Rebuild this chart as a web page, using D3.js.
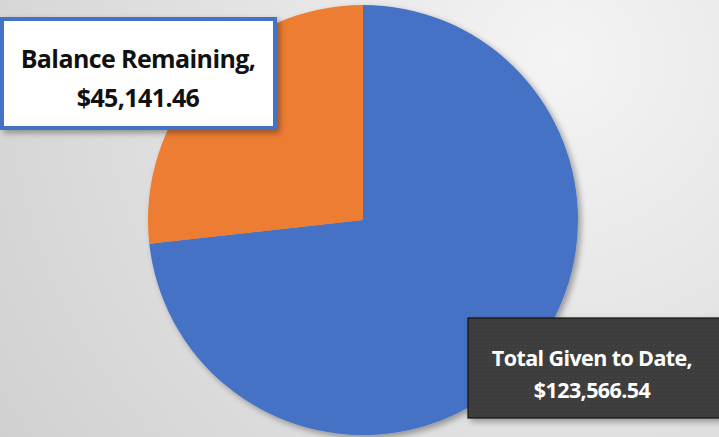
<!DOCTYPE html>
<html>
<head>
<meta charset="utf-8">
<script src="https://cdn.jsdelivr.net/npm/d3@7"></script>
<style>
  body { margin: 0; padding: 0; overflow: hidden; }
  svg { display: block; }
</style>
</head>
<body>
<div id="chart"></div>
<script>
// Data
var categories = ["Total Given to Date", "Balance Remaining"];
var values = [123566.54, 45141.46];
var valueLabels = ["$123,566.54", "$45,141.46"];
var colors = ["#4472c4", "#ed7d31"];

var width = 719, height = 437;
var cx = 363, cy = 220, radius = 215;

var svg = d3.select("#chart")
    .append("svg")
    .attr("width", width)
    .attr("height", height);

var defs = svg.append("defs");

// background gradient
var bg = defs.append("radialGradient")
    .attr("id", "bgGrad")
    .attr("gradientUnits", "userSpaceOnUse")
    .attr("cx", 560).attr("cy", 60).attr("r", 700);
bg.append("stop").attr("offset", "0%").attr("stop-color", "#f4f4f4");
bg.append("stop").attr("offset", "100%").attr("stop-color", "#cfcfcf");

// shadow
var sh = defs.append("filter").attr("id", "shadow")
    .attr("x", "-10%").attr("y", "-10%").attr("width", "130%").attr("height", "130%");
sh.append("feGaussianBlur").attr("in", "SourceAlpha").attr("stdDeviation", 3);
sh.append("feOffset").attr("dx", 3).attr("dy", 3).attr("result", "ob");
sh.append("feComponentTransfer").append("feFuncA").attr("type", "linear").attr("slope", 0.35);
var m = sh.append("feMerge");
m.append("feMergeNode");
m.append("feMergeNode").attr("in", "SourceGraphic");

// dotted pattern for dark label
var pat = defs.append("pattern")
    .attr("id", "dots")
    .attr("patternUnits", "userSpaceOnUse")
    .attr("width", 4).attr("height", 4);
pat.append("rect").attr("width", 4).attr("height", 4).attr("fill", "#3c3c3c");
pat.append("rect").attr("x", 1).attr("y", 1).attr("width", 1).attr("height", 1).attr("fill", "#4c4c4c");

svg.append("rect")
    .attr("width", width).attr("height", height)
    .attr("fill", "url(#bgGrad)");

// Pie
var pie = d3.pie().sort(null).value(function (d) { return d; });
var arc = d3.arc().innerRadius(0).outerRadius(radius);

var g = svg.append("g")
    .attr("transform", "translate(" + cx + "," + cy + ")")
    .attr("filter", "url(#shadow)");

g.selectAll("path")
    .data(pie(values))
    .enter()
    .append("path")
    .attr("d", arc)
    .attr("fill", function (d, i) { return colors[i]; });

// Data labels
var labels = [
    { x: 2, y: 19, w: 273, h: 109, fill: "#ffffff", stroke: "#4472c4", sw: 4, color: "#111", size: 25, cxT: 138, y1: 68, y2: 107 },
    { x: 468, y: 318, w: 260, h: 100, fill: "url(#dots)", stroke: "#111", sw: 1.2, color: "#ffffff", size: 21.5, cxT: 592, y1: 366, y2: 398 }
];
var order = [1, 0];

order.forEach(function (idx, k) {
    var L = labels[k];
    var lg = svg.append("g");
    lg.append("rect")
        .attr("x", L.x).attr("y", L.y)
        .attr("width", L.w).attr("height", L.h)
        .attr("fill", L.fill)
        .attr("stroke", L.stroke)
        .attr("stroke-width", L.sw)
        .attr("filter", "url(#shadow)");
    lg.append("text")
        .attr("x", L.cxT).attr("y", L.y1)
        .attr("text-anchor", "middle")
        .style("font-family", "'Open Sans', sans-serif")
        .style("font-weight", "bold")
        .style("font-size", L.size + "px")
        .style("letter-spacing", "-0.6px")
        .attr("fill", L.color)
        .text(categories[idx] + ",");
    lg.append("text")
        .attr("x", L.cxT).attr("y", L.y2)
        .attr("text-anchor", "middle")
        .style("font-family", "'Open Sans', sans-serif")
        .style("font-weight", "bold")
        .style("font-size", L.size + "px")
        .style("letter-spacing", "-0.6px")
        .attr("fill", L.color)
        .text(valueLabels[idx]);
});
</script>
</body>
</html>
